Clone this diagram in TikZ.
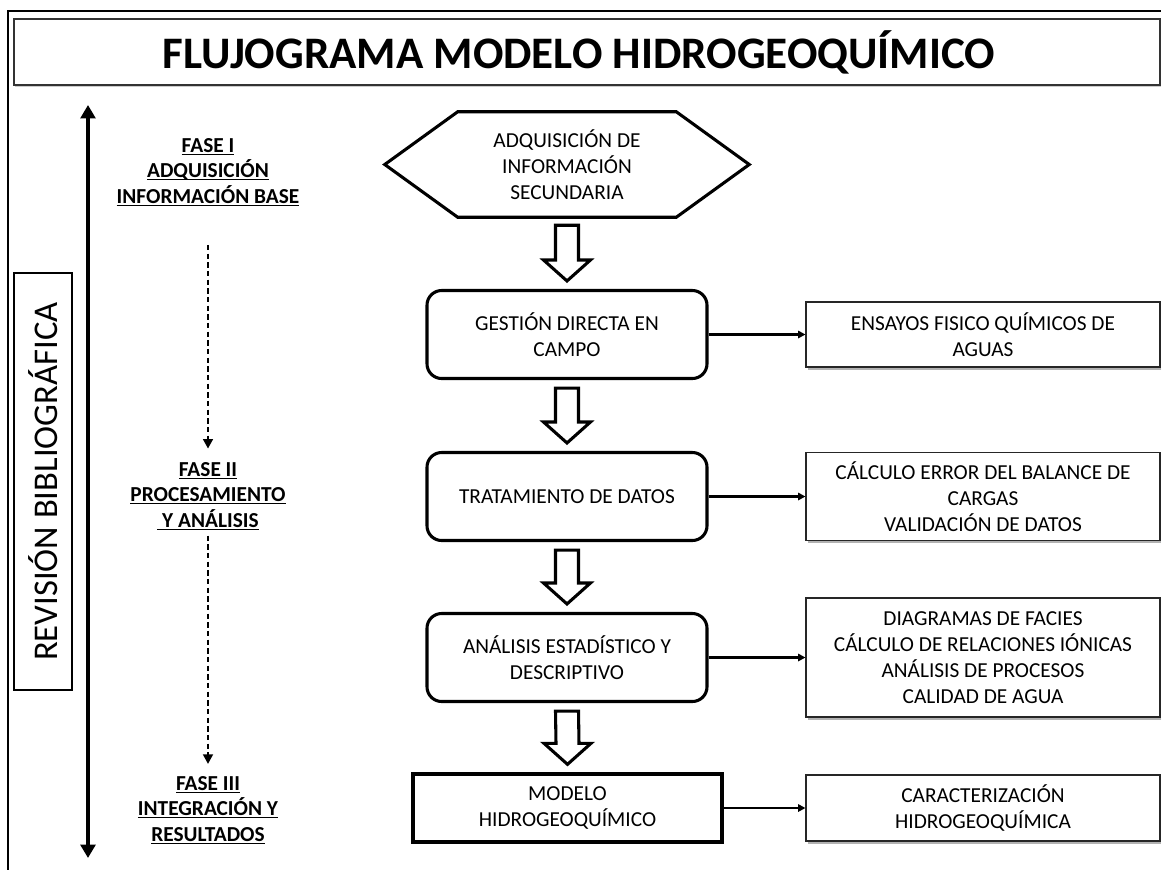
\documentclass[tikz,border=0pt]{standalone}
\usepackage{fontspec}
\setmainfont{Carlito}
\usetikzlibrary{arrows.meta,calc,shadows}

% underline that ignores descenders so every line is ruled at the same depth
\newcommand\ulline[1]{\underline{\raisebox{0pt}[\height][0pt]{#1}}}

% hollow block arrow from the bottom of one node to the top of the next
\newcommand\hollowarrow[2]{%
  \draw[hollow] ($(#1.south)+(-11.5,8)$) -- ($(#1.south)+(11.5,8)$)
    -- ($(#2.north)+(11.5,-29)$) -- ($(#2.north)+(23.5,-29)$)
    -- ($(#2.north)+(0,-8)$) -- ($(#2.north)+(-23.5,-29)$)
    -- ($(#2.north)+(-11.5,-29)$) -- cycle;}

\begin{document}
\begin{tikzpicture}[x=0.75pt,y=-0.75pt,
  txt/.style={font=\fontsize{16}{19.5}\selectfont, align=center},
  phase/.style={font=\fontsize{16}{19.2}\selectfont\bfseries, align=center, inner sep=0pt},
  stepbox/.style={txt, draw, line width=2.3pt, rounded corners=11pt,
    minimum width=210pt, minimum height=66pt},
  plainbox/.style={txt, draw, line width=2.5pt, minimum width=231.75pt, minimum height=51pt},
  outbox/.style={txt, draw=black!85, fill=white, line width=0.8pt, minimum width=265.5pt,
    drop shadow={shadow xshift=1.6pt, shadow yshift=-2pt, fill=black!55, opacity=0.55}},
  hollow/.style={draw, line width=2.3pt, fill=white, line join=miter},
  link/.style={line width=1.6pt, -{Triangle[length=5.5pt,width=5.5pt]}},
  dasharrow/.style={line width=0.9pt, dash pattern=on 4pt off 2.5pt,
    -{Triangle[length=7pt,width=7.5pt]}},
  axis/.style={line width=3.6pt, {Triangle[length=10pt,width=11pt]}-{Triangle[length=10pt,width=11pt]}},
]
\useasboundingbox (0,0) rectangle (1161,869);
\clip (0,0) rectangle (1161,869);

% outer frame and title band
\draw[line width=1.6pt] (8,890) -- (8,11) -- (1180,11);
\node[draw=black!80, fill=white, line width=0.8pt, minimum width=859.5pt, minimum height=49.5pt,
  drop shadow={shadow xshift=1pt, shadow yshift=-1.5pt, fill=black!40, opacity=0.5}]
  (titlebox) at (587,52) {};
\node[font=\fontsize{33.8}{37}\selectfont\bfseries] (title) at (579,52)
  {FLUJOGRAMA MODELO HIDROGEOQUÍMICO};

% literature review band and time axis
\node[draw, line width=2pt, rotate=90, minimum width=312.75pt, minimum height=43.5pt,
  font=\fontsize{26}{30}\selectfont] (rev) at (43,481.5) {REVISIÓN BIBLIOGRÁFICA};
\coordinate (axtop) at (88,105);
\coordinate (axbot) at (88,858);
\draw[axis] (axtop) -- (axbot);

% phase labels
\node[phase] (f1) at (208,172)
  {\ulline{FASE I}\\\ulline{ADQUISICIÓN}\\\ulline{INFORMACIÓN BASE}};
\node[phase] (f2) at (208,496)
  {\ulline{FASE II}\\\ulline{PROCESAMIENTO}\\\ulline{\ Y ANÁLISIS}};
\node[phase] (f3) at (208,810)
  {\ulline{FASE III}\\\ulline{INTEGRACIÓN Y}\\\ulline{RESULTADOS}};
\draw[dasharrow, shorten <=29pt, shorten >=10pt] (f1.south) -- (f2.north);
\draw[dasharrow, shorten <=4pt, shorten >=9pt] (f2.south) -- (f3.north);

% main sequence
\node[txt, inner sep=0pt, minimum width=163.5pt, minimum height=78.75pt] (hex) at (567,164.5)
  {ADQUISICIÓN DE\\INFORMACIÓN\\SECUNDARIA};
\draw[line width=2.3pt, line join=miter] (hex.north west) -- (hex.north east)
  -- ($(hex.east)+(73,0)$) -- (hex.south east) -- (hex.south west)
  -- ($(hex.west)+(-73,0)$) -- cycle;

\node[stepbox] (b1) at (567,334.5) {GESTIÓN DIRECTA EN\\CAMPO};
\node[stepbox] (b2) at (567,496.5) {TRATAMIENTO DE DATOS};
\node[stepbox] (b3) at (567,657.5) {ANÁLISIS ESTADÍSTICO Y\\DESCRIPTIVO};
\node[plainbox] (b4) at (567.5,808) {MODELO\\HIDROGEOQUÍMICO};

\hollowarrow{hex}{b1}
\hollowarrow{b1}{b2}
\hollowarrow{b2}{b3}
\hollowarrow{b3}{b4}

% outputs of each step
\node[outbox, minimum height=48.75pt] (r1) at (983,334.5) {ENSAYOS FISICO QUÍMICOS DE\\AGUAS};
\node[outbox, minimum height=66pt] (r2) at (983,496.5)
  {CÁLCULO ERROR DEL BALANCE DE\\CARGAS\\VALIDACIÓN DE DATOS};
\node[outbox, minimum height=89.25pt] (r3) at (983,657.5)
  {DIAGRAMAS DE FACIES\\CÁLCULO DE RELACIONES IÓNICAS\\ANÁLISIS DE PROCESOS\\CALIDAD DE AGUA};
\node[outbox, minimum height=49.5pt] (r4) at (983,808) {CARACTERIZACIÓN\\HIDROGEOQUÍMICA};

\draw[link] (b1.east) -- (r1.west);
\draw[link] (b2.east) -- (r2.west);
\draw[link] (b3.east) -- (r3.west);
\draw[link] (b4.east) -- (r4.west);
\end{tikzpicture}
\end{document}
